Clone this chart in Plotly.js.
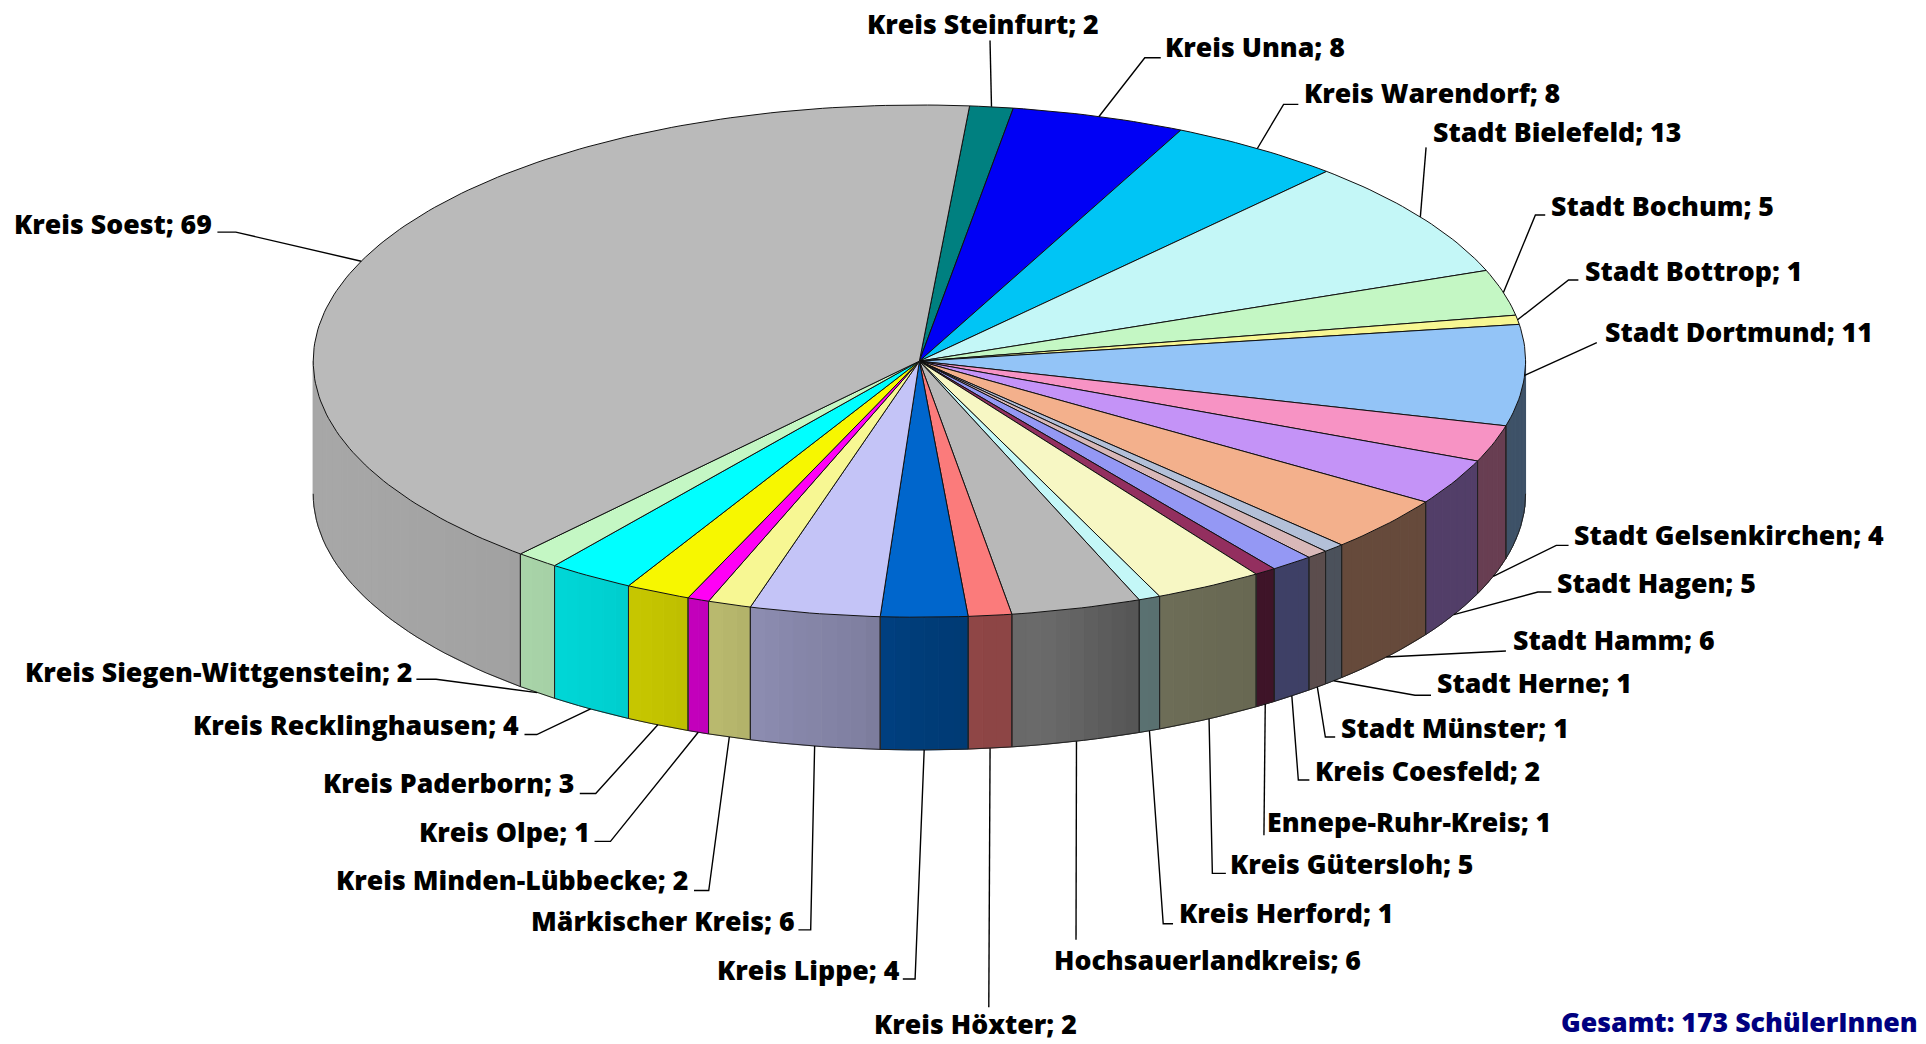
<!DOCTYPE html>
<html><head><meta charset="utf-8">
<script src="https://cdn.plot.ly/plotly-3.0.1.min.js"></script>
<style>html,body{margin:0;padding:0;background:#fff;overflow:hidden}#c{width:1926px;height:1044px}</style>
</head><body><div id="c"></div>
<script>
const categories=["Kreis Steinfurt","Kreis Unna","Kreis Warendorf","Stadt Bielefeld","Stadt Bochum","Stadt Bottrop","Stadt Dortmund","Stadt Gelsenkirchen","Stadt Hagen","Stadt Hamm","Stadt Herne","Stadt Münster","Kreis Coesfeld","Ennepe-Ruhr-Kreis","Kreis Gütersloh","Kreis Herford","Hochsauerlandkreis","Kreis Höxter","Kreis Lippe","Märkischer Kreis","Kreis Minden-Lübbecke","Kreis Olpe","Kreis Paderborn","Kreis Recklinghausen","Kreis Siegen-Wittgenstein","Kreis Soest"];
const values=[2,8,8,13,5,1,11,4,5,6,1,1,2,1,5,1,6,2,4,6,2,1,3,4,2,69];
const colors=["#008080","#0000F5","#00C5F5","#C4F7F7","#C4F7C4","#F7F793","#93C4F7","#F793C4","#C493F7","#F3B08C","#B3C0D8","#D8B8B8","#9498F4","#932F5F","#F7F7C4","#C4F7F7","#B8B8B8","#FB7B7B","#0066CC","#C4C4F7","#F7F793","#FF00F5","#F7F700","#00FFFF","#C4F7C4","#BABABA"];
const totalLabel="Gesamt: 173 SchülerInnen";

// Layout (reference-view units, scaled by S below)
const S=1926/1568;
const cx=748.5*S, cy=294*S, rx=493.5*S, ry=208.5*S, depth=108*S, startDeg=4.75;
// Side-wall brightness along the horizontal position
const shadeX=[313,500,560,640,700,760,860,920,1000,1040,1130,1170,1250,1530];
const shadeF=[.90,.87,.84,.80,.76,.71,.65,.59,.56,.58,.47,.44,.42,.42];
// Label: anchor side, text x, text y, leader knots
const labelSide=["r","l","l","l","l","l","l","l","l","l","l","l","l","l","l","l","c","c","r","r","r","r","r","r","r","r"];
const labelX=[896,947,1060,1165,1261,1289,1305,1280,1266,1230,1168,1090,1069,1030,1000,958,983,794,734,649,562,482,470,424,338,174];
const labelY=[19,38,75,107,167,220,270,435,474,521,556,592,627,669,703,743,781,833,789,749,716,677,637,590,547,182];
const leaderKnots=[[[806,33]],[[945,47],[932,47]],[[1057,85],[1045,85]],[[1161,120]],[[1258,175],[1250,175]],[[1285,228],[1277,228]],[[1300,279]],[[1277,444],[1267,444]],[[1263,482],[1252,482]],[[1226,530]],[[1165,566],[1152,566]],[[1087,600],[1079,600]],[[1066,635],[1057,635]],[[1029,680]],[[998,711],[987,711]],[[955,752],[947,752]],[[876,765]],[[805,820]],[[735,797],[745,797]],[[650,757],[660,757]],[[565,725],[577,725]],[[484,685],[497,685]],[[472,646],[485,646]],[[427,598],[437,598]],[[339,553],[355,553]],[[177,189],[192,189]]];
const fontFamily='"Open Sans","Noto Sans",sans-serif', labelSize=26.7, labelWeight=800;

const rad=d=>d*Math.PI/180;
const px=d=>cx+rx*Math.sin(rad(d)), py=d=>cy-ry*Math.cos(rad(d));
const total=values.reduce((a,b)=>a+b,0);
function shade(x){
  if(x<=shadeX[0])return shadeF[0];
  for(let i=1;i<shadeX.length;i++) if(x<=shadeX[i]){
    const t=(x-shadeX[i-1])/(shadeX[i]-shadeX[i-1]); return shadeF[i-1]+t*(shadeF[i]-shadeF[i-1]);
  }
  return shadeF[shadeF.length-1];
}
function mult(hex,f){
  const n=parseInt(hex.slice(1),16);
  return `rgb(${Math.round((n>>16&255)*f)},${Math.round((n>>8&255)*f)},${Math.round((n&255)*f)})`;
}
const base={type:'scatter',mode:'lines',hoverinfo:'skip',showlegend:false};
const sides=[],edges=[],tops=[],leaders=[],anns=[];
let cum=0;
values.forEach((v,i)=>{
  const a0=startDeg+cum/total*360, a1=startDeg+(cum+v)/total*360, mid=(a0+a1)/2; cum+=v;
  // side wall (only the front half of the rim is seen)
  for(const [lo,hi] of [[a0,a1],[a0-360,a1-360]]){
    const s0=Math.max(lo,90), s1=Math.min(hi,270);
    if(s1>s0){
      const n=Math.max(1,Math.ceil((s1-s0)/1.5));
      for(let k=0;k<n;k++){
        const p=s0+(s1-s0)*k/n, q=s0+(s1-s0)*(k+1)/n, c=mult(colors[i],shade((px(p)+px(q))/2));
        sides.push({...base,x:[px(p),px(q),px(q),px(p),px(p)],y:[py(p),py(q),py(q)+depth,py(p)+depth,py(p)],fill:'toself',fillcolor:c,line:{color:c,width:1}});
      }
      const rimX=[],rimY=[];
      for(let k=0;k<=n;k++){const p=s0+(s1-s0)*k/n; rimX.push(px(p)); rimY.push(py(p)+depth);}
      edges.push({...base,x:rimX,y:rimY,line:{color:'#222',width:1}});
      for(const b of [a0,a1]){const bb=((b%360)+360)%360; if(bb>90&&bb<270)
        edges.push({...base,x:[px(bb),px(bb)],y:[py(bb),py(bb)+depth],line:{color:'#222',width:1}});}
    }
  }
  // top face
  const xs=[cx],ys=[cy], m=Math.max(2,Math.ceil((a1-a0)));
  for(let k=0;k<=m;k++){const d=a0+(a1-a0)*k/m; xs.push(px(d)); ys.push(py(d));}
  xs.push(cx);ys.push(cy);
  tops.push({...base,x:xs,y:ys,fill:'toself',fillcolor:colors[i],line:{color:'#111',width:1}});
  // leader from the label to the slice's rim at its middle angle
  const mm=((mid%360)+360)%360, front=mm>100&&mm<270;
  const lx=leaderKnots[i].map(p=>p[0]*S), ly=leaderKnots[i].map(p=>p[1]*S);
  lx.push(px(mm)); ly.push(py(mm)+(front?depth:0));
  leaders.push({...base,x:lx,y:ly,line:{color:'#000',width:1.4}});
  anns.push({x:labelX[i]*S,y:labelY[i]*S,xref:'x',yref:'y',showarrow:false,
    xanchor:{l:'left',r:'right',c:'center'}[labelSide[i]],yanchor:'middle',
    text:categories[i]+'; '+v,font:{family:fontFamily,size:labelSize,color:'#000',weight:labelWeight}});
});
anns.push({x:1563*S,y:832*S,xref:'x',yref:'y',showarrow:false,xanchor:'right',yanchor:'middle',
  text:totalLabel,font:{family:fontFamily,size:labelSize,color:'#000080',weight:labelWeight}});
const ax={range:[0,1926],visible:false,fixedrange:true};
Plotly.newPlot('c',[...sides,...edges,...tops,...leaders],{
  width:1926,height:1044,margin:{l:0,r:0,t:0,b:0},paper_bgcolor:'#fff',plot_bgcolor:'#fff',
  xaxis:ax,yaxis:{range:[1044,0],visible:false,fixedrange:true},annotations:anns,hovermode:false,showlegend:false
},{displayModeBar:false,staticPlot:true});
</script></body></html>
